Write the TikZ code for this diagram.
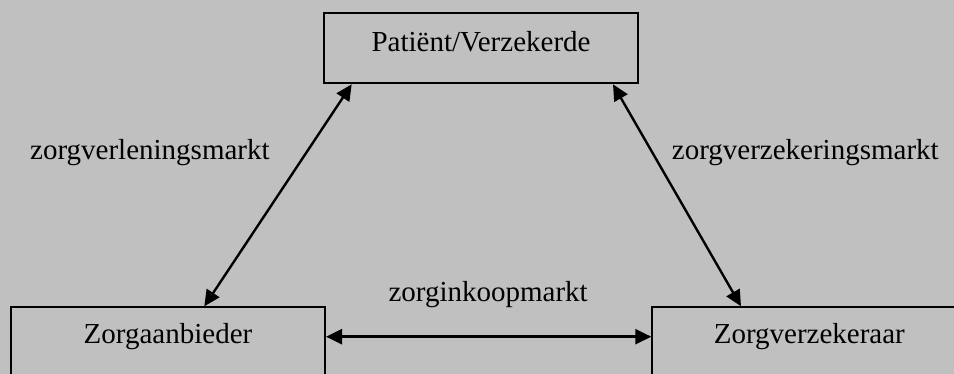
\documentclass[tikz,border=0pt]{standalone}
\usepackage{fontspec}
\setmainfont{Liberation Serif}
\usetikzlibrary{arrows.meta,calc}
\definecolor{bggray}{HTML}{C0C0C0}
\begin{document}
\begin{tikzpicture}[x=1pt,y=-1pt,
  box/.style={draw=black, line width=2pt, inner sep=0pt, minimum width=314pt, font=\fontsize{29}{35}\selectfont},
  lbl/.style={inner sep=0pt, font=\fontsize{29}{35}\selectfont},
  link/.style={line width=2.4pt, {Triangle[length=16pt,width=15pt]}-{Triangle[length=16pt,width=15pt]}}]
\fill[bggray] (0,0) rectangle (954,374);
\useasboundingbox (0,0) rectangle (954,374);
\clip (0,0) rectangle (954,374);
\node[box, anchor=base, text height=38.4pt, text depth=31.6pt] (pv) at (481,51.7) {Patiënt/Verzekerde};
\node[box, anchor=base, text height=36.7pt, text depth=60pt] (za) at (168,344) {Zorgaanbieder};
\node[box, anchor=base, text height=36.7pt, text depth=60pt] (zv) at (809.3,344) {Zorgverzekeraar};
\node[lbl, anchor=base west] (l1) at (30,160) {zorgverleningsmarkt};
\node[lbl, anchor=base west] (l2) at (671.7,160) {zorgverzekeringsmarkt};
\node[lbl, anchor=base west] (l3) at (388.3,301.7) {zorginkoopmarkt};
\draw[link] ($(pv.south west)+(28.7,0)$) -- ($(za.north west)+(194.3,0)$);
\draw[link] ($(pv.south east)+(-26,0)$) -- ($(zv.north west)+(89.7,0)$);
\draw[link] ($(za.base east)+(0,-7.3)$) -- ($(zv.base west)+(0,-7.3)$);
\end{tikzpicture}
\end{document}
